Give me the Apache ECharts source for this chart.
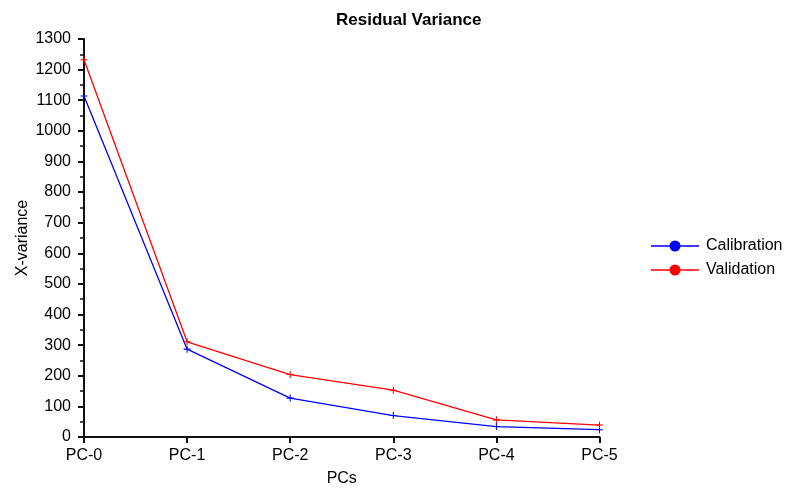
<!DOCTYPE html>
<html>
<head>
<meta charset="utf-8">
<script src="https://cdn.jsdelivr.net/npm/echarts@6/dist/echarts.min.js"></script>
<style>
html,body{margin:0;padding:0;background:#fff;}
#chart{width:794px;height:488px;}
</style>
</head>
<body>
<div id="chart"></div>
<script>
var categories = ['PC-0', 'PC-1', 'PC-2', 'PC-3', 'PC-4', 'PC-5'];
var calibration = [1114, 287, 127, 70, 34, 24];
var validation = [1232, 311, 204, 153, 56, 39];
var seriesNames = ['Calibration', 'Validation'];

var FONT = 'Liberation Sans';
var plus = 'path://M3.4,0h1.2v8h-1.2z M0,3.4h8v1.2h-8z';
var legendIcon = 'path://M0,4.8H48V6.2H0Z M24,0A5.5,5.5,0,1,1,23.99,0Z';

var chart = echarts.init(document.getElementById('chart'), null, {renderer: 'canvas'});
chart.setOption({
  animation: false,
  backgroundColor: '#fff',
  title: {
    text: 'Residual Variance',
    left: 331, top: 7,
    textStyle: {fontFamily: FONT, fontSize: 17, fontWeight: 'bold', color: '#000'}
  },
  legend: {
    orient: 'vertical',
    left: 651, top: 238, padding: 0,
    itemWidth: 48, itemHeight: 11, itemGap: 8,
    textStyle: {fontFamily: FONT, fontSize: 16, color: '#000', padding: [0,0,0,2]},
    data: [
      {name: seriesNames[0], icon: legendIcon, itemStyle: {color: '#0000ff'}},
      {name: seriesNames[1], icon: legendIcon, itemStyle: {color: '#ff0000'}}
    ]
  },
  grid: {left: 84, right: 194.5, top: 39, bottom: 51, containLabel: false, outerBoundsMode: 'none'},
  xAxis: {
    type: 'category',
    data: categories,
    boundaryGap: false,
    name: 'PCs',
    nameLocation: 'middle',
    nameGap: 34,
    nameMoveOverlap: false,
    nameTextStyle: {fontFamily: FONT, fontSize: 16, color: '#000'},
    axisLine: {lineStyle: {color: '#111', width: 2}},
    axisTick: {alignWithLabel: true, length: 6, lineStyle: {color: '#111', width: 2}},
    axisLabel: {fontFamily: FONT, fontSize: 16, color: '#000', margin: 11},
    splitLine: {show: false}
  },
  yAxis: {
    type: 'value',
    min: 0, max: 1300, interval: 100,
    name: 'X-variance',
    nameLocation: 'middle',
    nameGap: 53,
    nameMoveOverlap: false,
    nameTextStyle: {fontFamily: FONT, fontSize: 16, color: '#000'},
    axisLine: {show: true, lineStyle: {color: '#111', width: 2}},
    axisTick: {show: true, length: 6, lineStyle: {color: '#111', width: 2}},
    minorTick: {show: true, splitNumber: 2, length: 4, lineStyle: {color: '#111', width: 1.5}},
    axisLabel: {fontFamily: FONT, fontSize: 16, color: '#000', margin: 13,
      formatter: function (v) { return String(v); }},
    splitLine: {show: false}
  },
  series: [
    {
      name: seriesNames[0], type: 'line', data: calibration,
      symbol: plus, symbolSize: 7, showAllSymbol: true,
      lineStyle: {color: '#0000ff', width: 1.3},
      itemStyle: {color: '#0000ff'}
    },
    {
      name: seriesNames[1], type: 'line', data: validation,
      symbol: plus, symbolSize: 7, showAllSymbol: true,
      lineStyle: {color: '#ff0000', width: 1.3},
      itemStyle: {color: '#ff0000'}
    }
  ]
});
</script>
</body>
</html>
